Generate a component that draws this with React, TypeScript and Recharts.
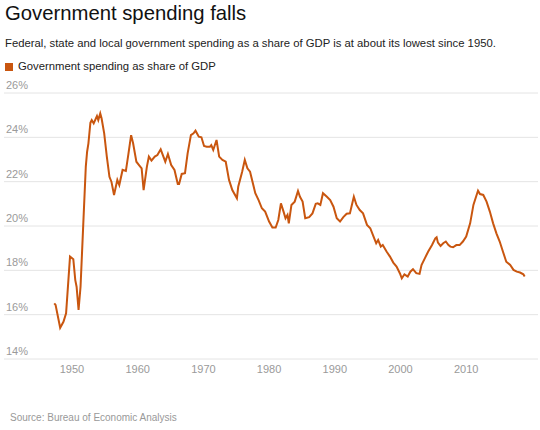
import React from "react";
import { CartesianGrid, Line, LineChart, XAxis, YAxis } from "recharts";

const years = [
  1947.3, 1947.5, 1948.2, 1948.7, 1949.1, 1949.7, 1950.2, 1950.5, 1950.7, 1951.0,
  1951.3, 1951.7, 1952.1, 1952.3, 1952.5, 1952.8, 1953.0, 1953.3, 1953.8, 1954.0,
  1954.3, 1954.5, 1954.9, 1955.3, 1955.7, 1956.0, 1956.4, 1956.9, 1957.2, 1957.7,
  1958.2, 1958.6, 1959.0, 1959.3, 1959.8, 1960.2, 1960.6, 1960.9, 1961.4, 1961.7,
  1962.1, 1962.6, 1963.0, 1963.5, 1964.2, 1964.6, 1965.1, 1965.6, 1966.1, 1966.3,
  1966.7, 1967.2, 1967.6, 1968.1, 1968.5, 1968.8, 1969.3, 1969.7, 1970.1, 1970.5,
  1971.0, 1971.2, 1971.5, 1972.0, 1972.4, 1972.9, 1973.4, 1973.9, 1974.4, 1975.1,
  1975.3, 1975.9, 1976.3, 1976.7, 1977.1, 1977.9, 1978.4, 1978.9, 1979.4, 1980.0,
  1980.5, 1981.0, 1981.4, 1981.8, 1982.2, 1982.5, 1982.8, 1983.0, 1983.4, 1983.9,
  1984.4, 1984.7, 1985.1, 1985.5, 1986.1, 1986.6, 1987.1, 1987.4, 1987.8, 1988.2,
  1988.8, 1989.3, 1989.8, 1990.3, 1990.8, 1991.3, 1991.8, 1992.3, 1992.6, 1992.9,
  1993.3, 1993.8, 1994.3, 1994.9, 1995.4, 1995.9, 1996.3, 1996.6, 1997.0, 1997.3,
  1997.9, 1998.4, 1998.9, 1999.4, 1999.9, 2000.2, 2000.6, 2001.1, 2001.5, 2001.9,
  2002.4, 2002.9, 2003.2, 2003.7, 2004.2, 2004.8, 2005.3, 2005.5, 2005.7, 2006.1,
  2006.5, 2006.9, 2007.3, 2007.6, 2008.0, 2008.5, 2009.0, 2009.5, 2010.0, 2010.6,
  2011.1, 2011.5, 2011.8, 2012.1, 2012.6, 2013.1, 2013.6, 2014.1, 2014.6, 2015.1,
  2015.6, 2016.1, 2016.7, 2017.2, 2017.7, 2018.2, 2018.7, 2018.9,
];

const spending = [
  16.51, 16.44, 15.41, 15.68, 16.06, 18.62, 18.5, 17.56, 17.26, 16.21,
  17.26, 19.97, 22.68, 23.35, 23.73, 24.66, 24.78, 24.63, 24.96, 24.78,
  25.08, 24.86, 24.18, 23.13, 22.22, 22.0, 21.4, 22.08, 21.85, 22.53,
  22.48, 23.28, 24.1, 23.73, 22.9, 22.75, 22.6, 21.62, 22.68, 23.13,
  22.95, 23.13, 23.2, 23.46, 22.9, 23.25, 22.75, 22.53, 21.9, 21.9,
  22.35, 22.38, 23.28, 24.1, 24.18, 24.3, 24.03, 24.0, 23.61, 23.58,
  23.58, 23.65, 23.43, 23.88, 23.13, 22.98, 22.9, 22.08, 21.62, 21.25,
  21.77, 22.45, 22.98, 22.6, 22.45, 21.48, 21.17, 20.8, 20.65, 20.2,
  19.93, 19.93, 20.27, 21.02, 20.65, 20.35, 20.5, 20.12, 20.95, 21.1,
  21.58, 21.32, 21.1, 20.35, 20.4, 20.57, 21.0, 21.02, 20.95, 21.48,
  21.32, 21.17, 20.87, 20.35, 20.2, 20.4, 20.55, 20.57, 20.95, 21.32,
  20.95, 20.72, 20.57, 20.05, 19.9, 19.52, 19.22, 19.37, 19.07, 19.14,
  18.84, 18.62, 18.35, 18.17, 17.87, 17.64, 17.82, 17.72, 17.94, 18.05,
  17.87, 17.84, 18.24, 18.54, 18.84, 19.14, 19.44, 19.49, 19.25, 19.1,
  19.22, 19.3, 19.14, 19.07, 19.04, 19.14, 19.14, 19.3, 19.52, 20.12,
  20.95, 21.32, 21.59, 21.44, 21.4, 21.1, 20.65, 20.12, 19.67, 19.3,
  18.84, 18.39, 18.24, 18.02, 17.94, 17.9, 17.82, 17.72,
];

const xTicks = [1950, 1960, 1970, 1980, 1990, 2000, 2010];
const yTicks = [14, 16, 18, 20, 22, 24, 26];

const FONT = '"Liberation Sans", Arial, sans-serif';
const ORANGE = "#c9560f";

const data = years.map((year, i) => ({ year, value: spending[i] }));

function YTick(props: any) {
  const { y, payload } = props;
  return (
    <text x={6} y={y - 4} fill="#9a9a9a" fontSize={11} fontFamily={FONT}>
      {payload.value}%
    </text>
  );
}

function XTick(props: any) {
  const { x, y, payload } = props;
  return (
    <text
      x={x}
      y={y + 5.5}
      fill="#9a9a9a"
      fontSize={11}
      fontFamily={FONT}
      textAnchor="middle"
    >
      {payload.value}
    </text>
  );
}

export default function App() {
  return (
    <div
      style={{
        position: "absolute",
        left: 0,
        top: 0,
        width: 540,
        height: 430,
        background: "#fff",
        fontFamily: FONT,
        overflow: "hidden",
      }}
    >
      <div
        style={{
          position: "absolute",
          left: 5,
          top: 3,
          fontSize: 20.3,
          lineHeight: 1,
          color: "#111",
          whiteSpace: "nowrap",
        }}
      >
        Government spending falls
      </div>
      <div
        style={{
          position: "absolute",
          left: 5,
          top: 37.7,
          fontSize: 11.3,
          lineHeight: 1,
          color: "#222",
          whiteSpace: "nowrap",
        }}
      >
        Federal, state and local government spending as a share of GDP is at
        about its lowest since 1950.
      </div>
      <div
        style={{
          position: "absolute",
          left: 5,
          top: 63,
          width: 8,
          height: 8,
          background: ORANGE,
        }}
      />
      <div
        style={{
          position: "absolute",
          left: 18,
          top: 61.1,
          fontSize: 11.3,
          lineHeight: 1,
          color: "#222",
          whiteSpace: "nowrap",
        }}
      >
        Government spending as share of GDP
      </div>

      <div style={{ position: "absolute", left: 0, top: 0 }}>
        <LineChart
          width={540}
          height={390}
          data={data}
          margin={{ top: 93, right: 2, left: 0, bottom: 1 }}
        >
          <CartesianGrid stroke="#e4e4e4" vertical={false} />
          <XAxis
            dataKey="year"
            type="number"
            domain={[1939.65, 2020.93]}
            ticks={xTicks}
            axisLine={false}
            tickLine={false}
            height={30}
            tick={<XTick />}
            allowDataOverflow
          />
          <YAxis
            type="number"
            domain={[14, 26]}
            ticks={yTicks}
            axisLine={false}
            tickLine={false}
            width={4}
            tick={<YTick />}
          />
          <Line
            type="linear"
            dataKey="value"
            stroke={ORANGE}
            strokeWidth={2}
            dot={false}
            isAnimationActive={false}
          />
        </LineChart>
      </div>

      <div
        style={{
          position: "absolute",
          left: 10,
          top: 413,
          fontSize: 10,
          lineHeight: 1,
          color: "#999",
          whiteSpace: "nowrap",
        }}
      >
        Source: Bureau of Economic Analysis
      </div>
    </div>
  );
}
